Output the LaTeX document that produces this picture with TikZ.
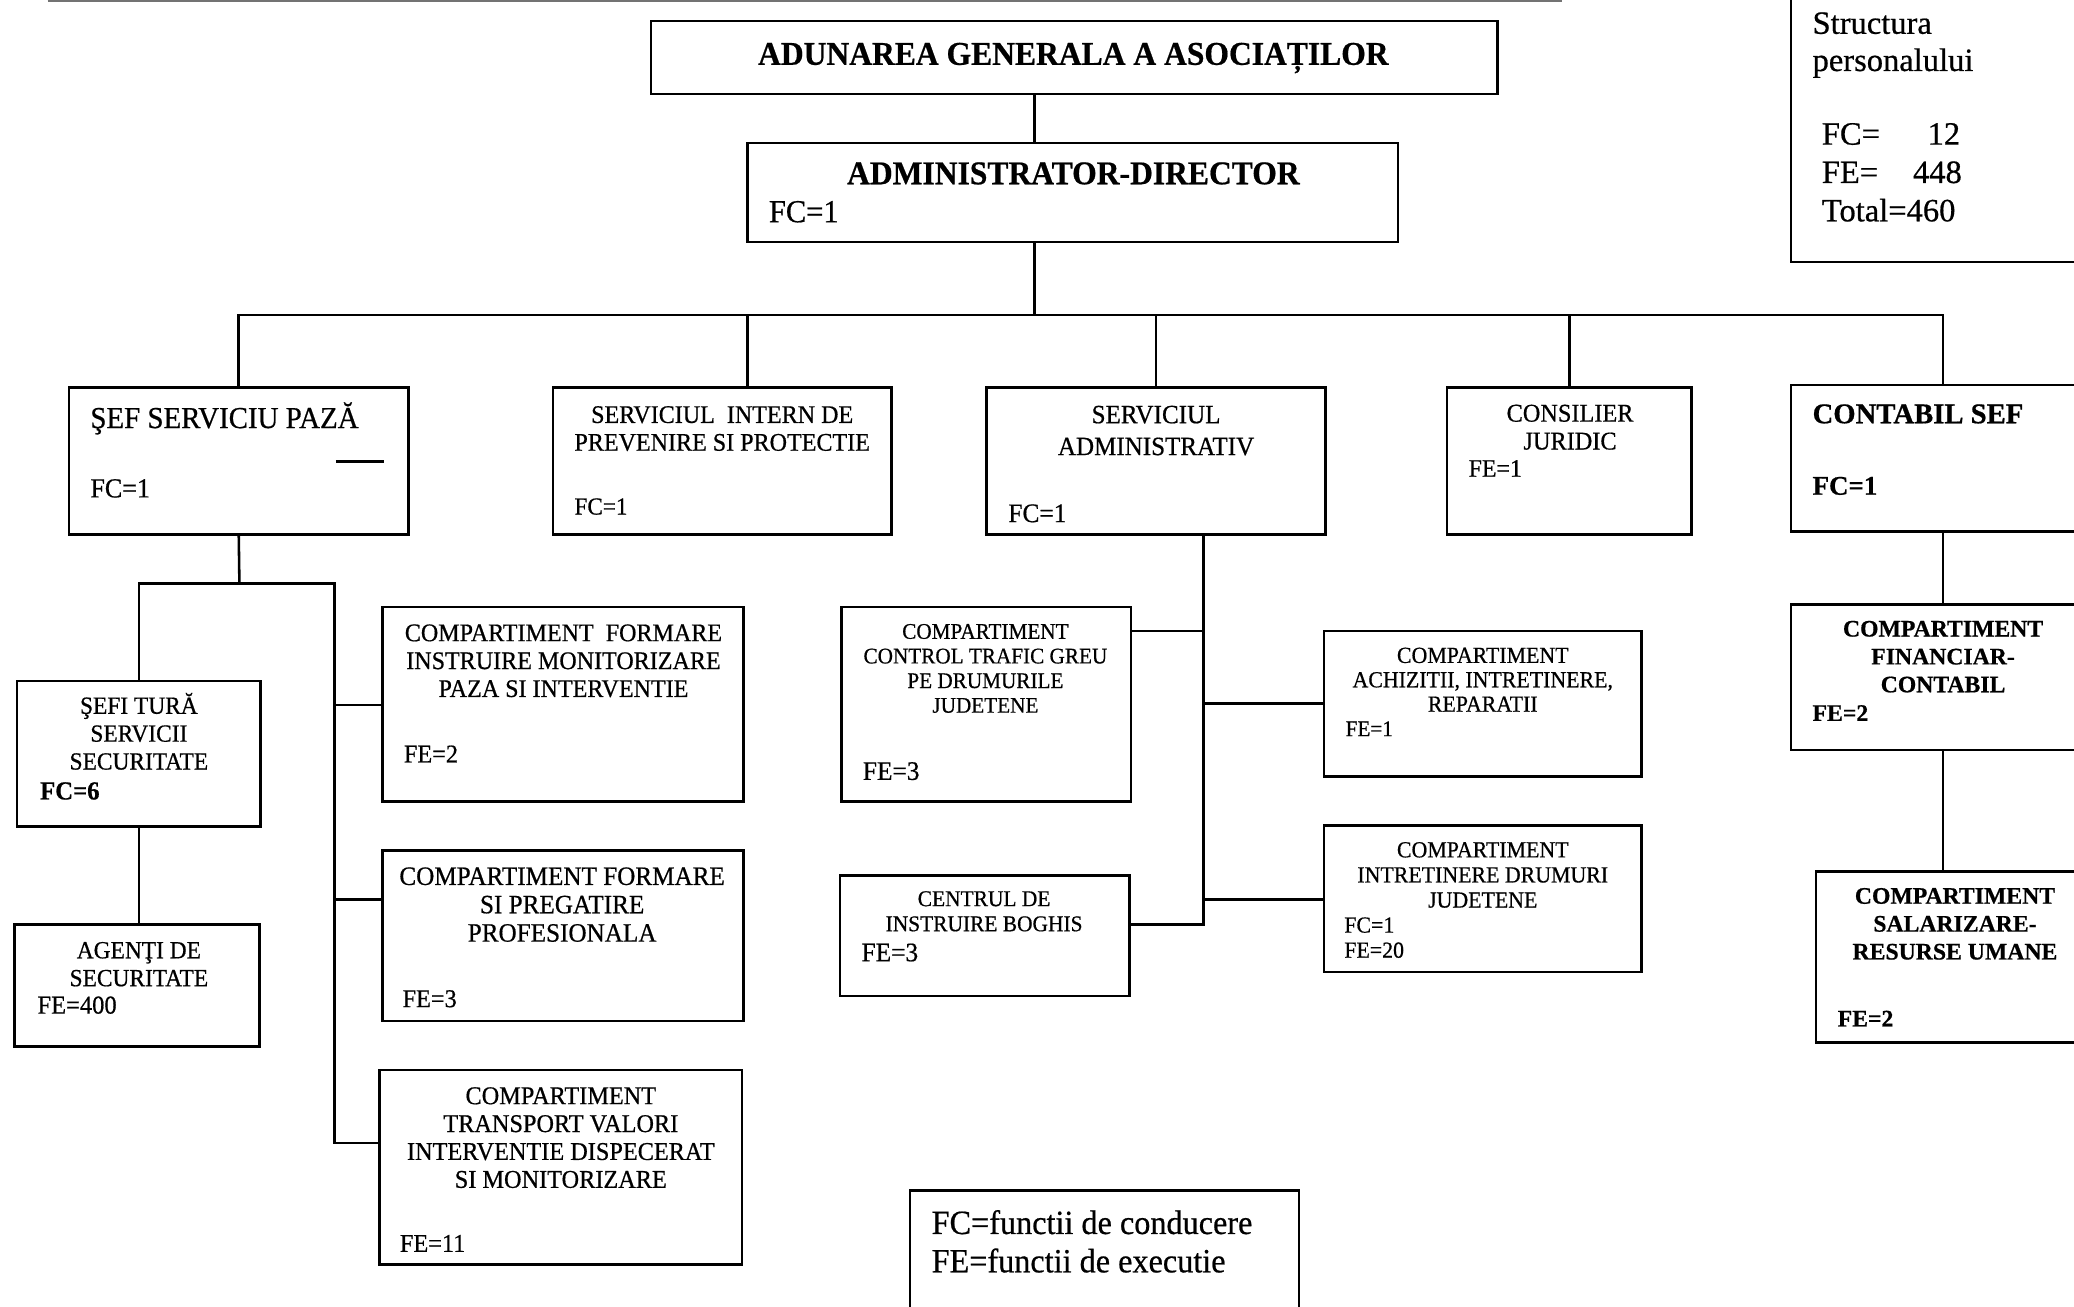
\documentclass[tikz,border=0pt]{standalone}
\usepackage{fontspec}
\setmainfont{Liberation Serif}[FakeBold=0.6]
\newfontfamily\cond{Liberation Serif}[FakeStretch=0.95, FakeBold=0.6]
\usetikzlibrary{fit}
\newcommand{\fsz}[2]{\fontsize{#1}{#2}\selectfont}

\begin{document}
\begin{tikzpicture}[x=0.02cm, y=-0.02cm,
    box/.style={draw, line width=1.1pt, inner sep=0pt},
    link/.style={line width=1.1pt},
    head/.style={inner sep=0pt, anchor=base, font=\cond\bfseries\fsz{14.3}{16}},
    ttl/.style 2 args={inner sep=0pt, align=center, anchor=north, font=\cond\fsz{#1}{#2}},
    rttl/.style 2 args={inner sep=0pt, align=center, anchor=north, font=\bfseries\fsz{#1}{#2}},
    num/.style={inner sep=0pt, anchor=base west, font=\cond\fsz{#1}{#1}},
    rnum/.style={inner sep=0pt, anchor=base west, font=\bfseries\fsz{#1}{#1}}]

            \useasboundingbox (0,0) rectangle (1568,988);
            \clip (0,0) rectangle (1568,988);

            \draw[line width=0.7pt, black!55] (36,0.8) -- (1181,0.8);

            \node[box, fit={(492,16) (1132,71)}] (AGA) {};
            \node[head] (AGA-t) at (811.5,49) {ADUNAREA GENERALA A ASOCIAȚILOR};

            \node[box, fit={(565,108) (1057,183)}] (AD) {};
            \node[head] (AD-t) at (811.5,139.3) {ADMINISTRATOR-DIRECTOR};
            \node[num=13.8] (AD-n) at (581,168) {FC=1};

            \node[box, fit={(1354,-20) (1584,198)}] (STR) {};
            \node[inner sep=0pt, anchor=north west, align=left, font=\fsz{14}{16}] (STR-t) at (1370,8.9) {Structura\\personalului};
            \node[inner sep=0pt, anchor=north west, align=left, font=\fsz{14}{16.5}] (STR-n) at (1377,92.7) {FC=\hspace{20.5pt}12\\FE=\hspace{15pt}448\\Total=460};

            \node[box, fit={(52,293) (309,404)}] (SSP) {};
            \node[num=13.1] (SSP-t) at (68,323.6) {ŞEF SERVICIU PAZĂ};
            \node[num=11.8] (SSP-n) at (68,376) {FC=1};
            \draw[link] (254,349) -- (290,349);

            \node[box, fit={(418,293) (674,404)}] (SIP) {};
            \node[ttl={10.9}{11.95}] (SIP-t) at (546,306.7) {SERVICIUL\ \ INTERN DE\\PREVENIRE SI PROTECTIE};
            \node[num=10.5] (SIP-n) at (434,389) {FC=1};

            \node[box, fit={(746,293) (1002,404)}] (SA) {};
            \node[ttl={11.35}{13.7}] (SA-t) at (874,306.4) {SERVICIUL\\ADMINISTRATIV};
            \node[num=11.5] (SA-n) at (762,394.7) {FC=1};

            \node[box, fit={(1094,293) (1279,404)}] (CJ) {};
            \node[ttl={11}{12}] (CJ-t) at (1187,305.6) {CONSILIER\\JURIDIC};
            \node[num=10.8] (CJ-n) at (1110,360.4) {FE=1};

            \node[box, fit={(1354,291) (1584,402)}] (CS) {};
            \node[rnum=12.35] (CS-t) at (1370,320) {CONTABIL SEF};
            \node[rnum=11.6] (CS-n) at (1370,374) {FC=1};

            \node[box, fit={(13,515) (197,625)}] (SFT) {};
            \node[ttl={10.6}{12}] (SFT-t) at (105,523.5) {ŞEFI TURĂ\\SERVICII\\SECURITATE};
            \node[num=11.2] (SFT-n) at (30,604.4) {\bfseries FC=6};

            \node[box, fit={(11,699) (196,791)}] (AGS) {};
            \node[ttl={10.6}{12}] (AGS-t) at (105,711.8) {AGENŢI DE\\SECURITATE};
            \node[num=11.1] (AGS-n) at (28,766.3) {FE=400};

            \node[box, fit={(289,459) (562,606)}] (CF1) {};
            \node[ttl={10.9}{12}] (CF1-t) at (426,471.7) {COMPARTIMENT\ \ FORMARE\\INSTRUIRE MONITORIZARE\\PAZA SI INTERVENTIE};
            \node[num=11] (CF1-n) at (305,576.4) {FE=2};

            \node[box, fit={(289,643) (562,772)}] (CF2) {};
            \node[ttl={11.4}{12.2}] (CF2-t) at (425,655.4) {COMPARTIMENT FORMARE\\SI PREGATIRE\\PROFESIONALA};
            \node[num=11] (CF2-n) at (304,761.4) {FE=3};

            \node[box, fit={(287,809) (561,956)}] (CTV) {};
            \node[ttl={11}{12}] (CTV-t) at (424,821.6) {COMPARTIMENT\\TRANSPORT VALORI\\INTERVENTIE DISPECERAT\\SI MONITORIZARE};
            \node[num=11] (CTV-n) at (302,946.4) {FE=11};

            \node[box, fit={(636,459) (855,606)}] (CTG) {};
            \node[ttl={9.6}{10.6}] (CTG-t) at (745,471.4) {COMPARTIMENT\\CONTROL TRAFIC GREU\\PE DRUMURILE\\JUDETENE};
            \node[num=11.5] (CTG-n) at (652,589.6) {FE=3};

            \node[box, fit={(1001,477) (1241,587)}] (CAIR) {};
            \node[ttl={9.9}{10.5}] (CAIR-t) at (1121,489.3) {COMPARTIMENT\\ACHIZITII, INTRETINERE,\\REPARATII};
            \node[num=9.6] (CAIR-n) at (1017,556.5) {FE=1};

            \node[box, fit={(635,662) (854,753)}] (CIB) {};
            \node[ttl={9.7}{10.8}] (CIB-t) at (744,673.4) {CENTRUL DE\\INSTRUIRE BOGHIS};
            \node[num=11.5] (CIB-n) at (651,726.7) {FE=3};

            \node[box, fit={(1001,624) (1241,735)}] (CIDJ) {};
            \node[ttl={9.9}{10.8}] (CIDJ-t) at (1121,636.3) {COMPARTIMENT\\INTRETINERE DRUMURI\\JUDETENE};
            \node[inner sep=0pt, anchor=north west, align=left, font=\cond\fsz{9.9}{10.8}] (CIDJ-n) at (1016,693.2) {FC=1\\FE=20};

            \node[box, fit={(1354,457) (1584,567)}] (CFC) {};
            \node[rttl={10.2}{12}] (CFC-t) at (1469,469) {COMPARTIMENT\\FINANCIAR-\\CONTABIL};
            \node[rnum=10.2] (CFC-n) at (1370,545) {FE=2};

            \node[box, fit={(1373,659) (1584,788)}] (CSRU) {};
            \node[rttl={10.2}{12}] (CSRU-t) at (1478,671) {COMPARTIMENT\\SALARIZARE-\\RESURSE UMANE};
            \node[rnum=10.2] (CSRU-n) at (1389,776) {FE=2};

            \node[box, fit={(688,900) (982,1010)}] (LEG) {};
            \node[inner sep=0pt, anchor=north west, align=left, font=\cond\fsz{14.6}{16.5}] (LEG-t) at (704,914.5) {FC=functii de conducere\\FE=functii de executie};

            \coordinate (spine) at (782,238);
            \coordinate (SIPj) at (565,238);
            \coordinate (SSPj) at (181,441);
            \coordinate (SSPr) at (253,441);
            \coordinate (p1) at (253,533);
            \coordinate (p2) at (253,680);
            \coordinate (p3) at (253,864);
            \coordinate (q1) at (910,477);
            \coordinate (q2) at (910,532);
            \coordinate (q3) at (910,680);
            \coordinate (q4) at (910,699);

            \draw[link] (AGA.south -| spine) -- (AD.north -| spine);
            \draw[link] (AD.south -| spine) -- (spine);
            \draw[link] (SSP.north) |- (spine) -| (CS.north);
            \draw[link] (SIPj) -- (SIPj |- SIP.north);
            \draw[link] (SA.north |- spine) -- (SA.north);
            \draw[link] (CJ.north |- spine) -- (CJ.north);

            \draw[link] (SSP.south) -- (SSPj);
            \draw[link] (SFT.north) |- (SSPr) -- (p3) -- (p3 -| CTV.west);
            \draw[link] (p1) -- (p1 -| CF1.west);
            \draw[link] (p2) -- (p2 -| CF2.west);
            \draw[link] (SFT.south) -- (SFT.south |- AGS.north);

            \draw[link] (SA.south -| q1) -- (q4) -- (q4 -| CIB.east);
            \draw[link] (q1) -- (q1 -| CTG.east);
            \draw[link] (q2) -- (q2 -| CAIR.west);
            \draw[link] (q3) -- (q3 -| CIDJ.west);

            \draw[link] (CS.south) -- (CFC.north);
            \draw[link] (CFC.south) -- (CFC.south |- CSRU.north);

        \end{tikzpicture}
\end{document}
